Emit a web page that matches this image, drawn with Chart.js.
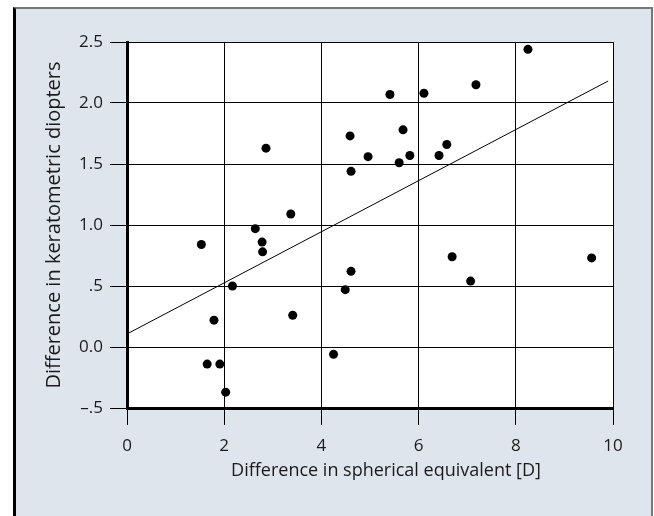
<!DOCTYPE html>
<html>
<head>
<meta charset="utf-8">
<script src="https://cdn.jsdelivr.net/npm/chart.js@4"></script>
<style>
    html, body { margin: 0; padding: 0; background: #fff; }
    #frame {
        position: absolute; left: 13px; top: 7px; width: 635px; height: 520px;
        background: #dfe5ec;
        border-left: 3px solid #000;
        border-top: 2px solid #777;
        border-right: 2px solid #777;
    }
    #chart { position: absolute; left: 0; top: 0; }
</style>
</head>
<body>
<div id="frame"></div>
<canvas id="chart" width="654" height="516"></canvas>
<script>
// measured points
const xValues = [1.53, 1.79, 1.65, 1.91, 2.03, 2.17, 2.64, 2.78, 2.79, 2.86, 3.37, 3.41,
                 4.25, 4.49, 4.61, 4.59, 4.61, 4.96, 5.41, 5.60, 5.68, 5.82, 6.11, 6.42,
                 6.58, 6.69, 7.18, 7.07, 8.25, 9.56];
const yValues = [0.84, 0.22, -0.14, -0.14, -0.37, 0.50, 0.97, 0.86, 0.78, 1.63, 1.09, 0.26,
                 -0.06, 0.47, 0.62, 1.73, 1.44, 1.56, 2.07, 1.51, 1.78, 1.57, 2.08, 1.57,
                 1.66, 0.74, 2.15, 0.54, 2.44, 0.73];

// regression line end points
const fitX = [0, 9.9];
const fitY = [0.107, 2.18];

const xTicks = [0, 2, 4, 6, 8, 10];
const yTickLabels = ['\u2013.5', '0.0', '.5', '1.0', '1.5', '2.0', '2.5'];

const xTitle = 'Difference in spherical equivalent [D]';
const yTitle = 'Difference in keratometric diopters';

const tickFont = { family: 'Open Sans', size: 17 };
const ink = '#1a1a1a';

const whiteArea = {
    id: 'whiteArea',
    beforeDraw(chart) {
        const { ctx, chartArea: a } = chart;
        ctx.save();
        ctx.fillStyle = '#fff';
        ctx.fillRect(a.left, a.top, a.right - a.left, a.bottom - a.top);
        ctx.restore();
    }
};

// x title sits a bit right of the plot centre in the original
const xTitlePlugin = {
    id: 'xTitle',
    afterDraw(chart) {
        const { ctx, chartArea: a } = chart;
        ctx.save();
        ctx.font = '18px "Open Sans"';
        ctx.fillStyle = ink;
        ctx.textAlign = 'center';
        ctx.textBaseline = 'middle';
        ctx.fillText(xTitle, (a.left + a.right) / 2 + 16, a.bottom + 63);
        ctx.restore();
    }
};

new Chart(document.getElementById('chart').getContext('2d'), {
    type: 'scatter',
    data: {
        datasets: [
            {
                label: 'eyes',
                data: xValues.map((x, i) => ({ x, y: yValues[i] })),
                backgroundColor: '#000',
                borderWidth: 0,
                pointRadius: 4.5
            },
            {
                type: 'line',
                label: 'fit',
                data: fitX.map((x, i) => ({ x, y: fitY[i] })),
                borderColor: '#000',
                borderWidth: 1,
                pointRadius: 0,
                fill: false
            }
        ]
    },
    options: {
        responsive: false,
        animation: false,
        layout: { padding: { left: 0, top: 42, right: 41, bottom: 0 } },
        plugins: { legend: { display: false }, tooltip: { enabled: false } },
        scales: {
            x: {
                type: 'linear',
                min: xTicks[0],
                max: xTicks[xTicks.length - 1],
                afterBuildTicks: s => { s.ticks = xTicks.map(v => ({ value: v })); },
                afterFit: s => { s.height = 108; },
                ticks: { color: ink, font: tickFont, padding: 11 },
                grid: { color: '#000', lineWidth: 1, tickLength: 17 },
                border: { display: true, color: '#000', width: 3 },
                title: { display: false }
            },
            y: {
                type: 'linear',
                min: -0.5,
                max: 2.5,
                ticks: { stepSize: 0.5, color: ink, font: tickFont, padding: 7,
                         callback: (v, i) => yTickLabels[i] },
                afterFit: s => { s.width = 127; },
                grid: { color: '#000', lineWidth: 1, tickLength: 17 },
                border: { display: true, color: '#000', width: 3 },
                title: { display: true, text: yTitle, color: ink,
                         font: { family: 'Open Sans', size: 20 }, padding: { top: 42, bottom: 0 } }
            }
        }
    },
    plugins: [whiteArea, xTitlePlugin]
});
</script>
</body>
</html>
